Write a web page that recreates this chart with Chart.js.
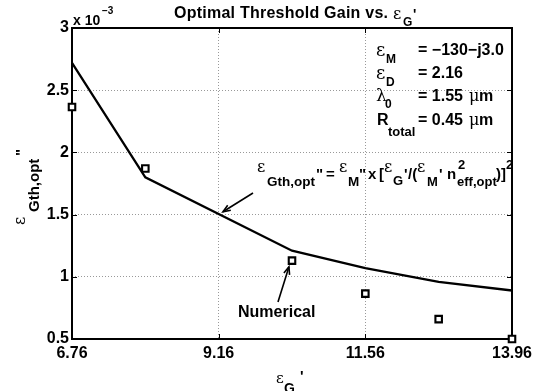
<!DOCTYPE html>
<html><head><meta charset="utf-8">
<script src="https://cdn.jsdelivr.net/npm/chart.js@4.4.0/dist/chart.umd.min.js"></script>
<style>html,body{margin:0;padding:0;background:#fff;overflow:hidden}#wrap{width:543px;height:391px}</style>
</head><body><div id="wrap"><canvas id="c" width="543" height="391"></canvas></div>
<script>
// ---- data (y values in units of 1e-3) ----
const xTicks = [6.76, 9.16, 11.56, 13.96];
const xTickLabels = ["6.76", "9.16", "11.56", "13.96"];
const yTicks = [0.5, 1, 1.5, 2, 2.5, 3];
const yTickLabels = ["0.5", "1", "1.5", "2", "2.5", "3"];
const analyticX = [6.76, 7.96, 10.36, 11.56, 12.76, 13.96];
const analyticY = [2.72, 1.80, 1.21, 1.07, 0.96, 0.89];
const numericalX = [6.76, 7.96, 10.36, 11.56, 12.76, 13.96];
const numericalY = [2.365, 1.87, 1.13, 0.865, 0.66, 0.50];

const SANS = '"Liberation Sans", Arial, Helvetica, sans-serif';
const SERIF = '"DejaVu Serif", "Liberation Serif", serif';
const B = s => 'bold ' + s + 'px ' + SANS;
const E = s => s + 'px ' + SERIF;

function segs(ctx, list) {
  for (const s of list) { ctx.font = s.f; ctx.fillText(s.t, s.x, s.y); }
}
function fitText(ctx, t, x, y, f, w) {
  ctx.font = f;
  const n = t.length;
  const base = ctx.measureText(t).width;
  const sp = (w - base) / (n - 1);
  let cx = x;
  for (const ch of t) { ctx.fillText(ch, cx, y); cx += ctx.measureText(ch).width + sp; }
}
function arrow(ctx, x1, y1, x2, y2) {
  const a = Math.atan2(y2 - y1, x2 - x1), L = 8, w = 0.38;
  ctx.beginPath(); ctx.moveTo(x1, y1); ctx.lineTo(x2, y2); ctx.stroke();
  ctx.beginPath();
  ctx.moveTo(x2 - L * Math.cos(a - w), y2 - L * Math.sin(a - w));
  ctx.lineTo(x2, y2);
  ctx.lineTo(x2 - L * Math.cos(a + w), y2 - L * Math.sin(a + w));
  ctx.stroke();
}

const deco = {
  id: 'deco',
  beforeDatasetsDraw(chart) {
    const {ctx, chartArea: a, scales} = chart;
    ctx.save();
    ctx.strokeStyle = '#000'; ctx.lineWidth = 1;
    ctx.beginPath();
    for (const v of xTicks) {
      const px = Math.round(scales.x.getPixelForValue(v)) + 0.5;
      ctx.moveTo(px, a.bottom); ctx.lineTo(px, a.bottom - 5);
      ctx.moveTo(px, a.top); ctx.lineTo(px, a.top + 5);
    }
    for (const v of yTicks) {
      const py = Math.round(scales.y.getPixelForValue(v)) + 0.5;
      ctx.moveTo(a.left, py); ctx.lineTo(a.left + 5, py);
      ctx.moveTo(a.right, py); ctx.lineTo(a.right - 5, py);
    }
    ctx.stroke();
    ctx.lineWidth = 2;
    ctx.strokeRect(a.left, a.top, a.right - a.left, a.bottom - a.top);
    ctx.restore();
  },
  afterDraw(chart) {
    const {ctx, scales} = chart;
    ctx.save();
    ctx.fillStyle = '#000'; ctx.strokeStyle = '#000';
    ctx.textBaseline = 'alphabetic'; ctx.textAlign = 'left';
    // title
    fitText(ctx, 'Optimal Threshold Gain vs.', 174, 18, B(16), 214);
    segs(ctx, [
      {t: 'ε', x: 393, y: 19, f: E(16)},
      {t: 'G', x: 403, y: 26, f: B(12)},
      {t: "'", x: 413, y: 19, f: B(14)}
    ]);
    // exponent
    segs(ctx, [
      {t: 'x 10', x: 73, y: 25, f: B(14)},
      {t: '\u22123', x: 102, y: 14, f: B(10)}
    ]);
    // parameter box
    segs(ctx, [
      {t: 'ε', x: 376, y: 56, f: E(18)},
      {t: 'M', x: 386, y: 63, f: B(12)},
      {t: '= \u2212130\u2212j3.0', x: 418, y: 55, f: B(16)},
      {t: 'ε', x: 376, y: 79, f: E(18)},
      {t: 'D', x: 386, y: 86, f: B(12)},
      {t: '= 2.16', x: 418, y: 78, f: B(16)},
      {t: 'λ', x: 376, y: 101, f: E(17)},
      {t: '0', x: 385, y: 108, f: B(12)},
      {t: '= 1.55 ', x: 418, y: 101, f: B(16)},
      {t: 'μ', x: 469, y: 101, f: E(16)},
      {t: 'm', x: 479, y: 101, f: B(16)},
      {t: 'R', x: 377, y: 125, f: B(16)},
      {t: 'total', x: 388, y: 136, f: B(13)},
      {t: '= 0.45 ', x: 418, y: 125, f: B(16)},
      {t: 'μ', x: 469, y: 125, f: E(16)},
      {t: 'm', x: 479, y: 125, f: B(16)}
    ]);
    // formula
    segs(ctx, [
      {t: 'ε', x: 257, y: 172, f: E(16)},
      {t: 'Gth,opt', x: 267, y: 186, f: B(13.5)},
      {t: '"', x: 316, y: 179, f: B(15)},
      {t: '=', x: 326, y: 179, f: B(15)},
      {t: 'ε', x: 339, y: 172, f: E(16)},
      {t: 'M', x: 348, y: 186, f: B(13.5)},
      {t: '"', x: 359, y: 179, f: B(15)},
      {t: 'x', x: 368, y: 179, f: B(15)},
      {t: '[', x: 379, y: 179, f: B(15)},
      {t: 'ε', x: 384, y: 172, f: E(16)},
      {t: 'G', x: 393, y: 185, f: B(13)},
      {t: "'", x: 404, y: 179, f: B(15)},
      {t: '/(', x: 408, y: 179, f: B(15)},
      {t: 'ε', x: 417, y: 172, f: E(16)},
      {t: 'M', x: 427, y: 186, f: B(13)},
      {t: "'", x: 439, y: 179, f: B(15)},
      {t: 'n', x: 447, y: 179, f: B(15)},
      {t: '2', x: 458, y: 169, f: B(13)},
      {t: 'eff,opt', x: 457, y: 186, f: B(13)},
      {t: ')]', x: 496, y: 179, f: B(15)},
      {t: '2', x: 506, y: 169, f: B(13)}
    ]);
    segs(ctx, [{t: 'Numerical', x: 238, y: 317, f: B(16)}]);
    // arrows (tips in data coordinates)
    ctx.lineWidth = 1.6;
    arrow(ctx, 253, 193, scales.x.getPixelForValue(9.23), scales.y.getPixelForValue(1.523));
    arrow(ctx, 278, 302, scales.x.getPixelForValue(10.31), scales.y.getPixelForValue(1.08));
    // x-axis title
    segs(ctx, [
      {t: 'ε', x: 276, y: 383, f: E(15)},
      {t: 'G', x: 284, y: 393, f: B(14)},
      {t: "'", x: 300, y: 381, f: B(15)}
    ]);
    // y-axis title (rotated)
    ctx.rotate(-Math.PI / 2);
    segs(ctx, [
      {t: 'ε', x: -225, y: 25, f: E(16)},
      {t: 'Gth,opt', x: -212, y: 38.5, f: B(15)},
      {t: '"', x: -156, y: 25.5, f: B(15)}
    ]);
    ctx.restore();
  }
};

new Chart(document.getElementById('c'), {
  type: 'scatter',
  data: {
    datasets: [
      {
        type: 'line',
        data: analyticX.map((x, i) => ({x, y: analyticY[i]})),
        borderColor: '#000', borderWidth: 2.3, pointRadius: 0, tension: 0, fill: false,
        order: 2
      },
      {
        type: 'scatter',
        data: numericalX.map((x, i) => ({x, y: numericalY[i]})),
        pointStyle: 'rect', pointRadius: 4.6, borderWidth: 2.1,
        borderColor: '#000', backgroundColor: '#fff', clip: false, order: 1
      }
    ]
  },
  options: {
    responsive: false, animation: false, devicePixelRatio: 1,
    layout: {padding: {top: 28, right: 31, left: 0, bottom: 0}},
    plugins: {legend: {display: false}, tooltip: {enabled: false}, title: {display: false}},
    scales: {
      x: {
        type: 'linear', min: 6.76, max: 13.96,
        afterBuildTicks: s => { s.ticks = xTicks.map(v => ({value: v})); },
        afterFit: s => { s.height = 52; },
        ticks: {
          font: {family: SANS, size: 16, weight: 'bold'}, color: '#000', padding: 5,
          maxRotation: 0, autoSkip: false,
          callback: (v) => { const i = xTicks.indexOf(v); return i >= 0 ? xTickLabels[i] : ''; }
        },
        grid: {
          drawTicks: false, lineWidth: 1,
          color: c => (c.index === 0 || c.index === xTicks.length - 1) ? 'rgba(0,0,0,0)' : 'rgba(0,0,0,0.4)'
        },
        border: {display: false, dash: [1, 2]}
      },
      y: {
        type: 'linear', min: 0.5, max: 3,
        afterBuildTicks: s => { s.ticks = yTicks.map(v => ({value: v})); },
        afterFit: s => { s.width = 72; },
        ticks: {
          font: {family: SANS, size: 16, weight: 'bold'}, color: '#000', padding: 3,
          callback: (v) => { const i = yTicks.indexOf(v); return i >= 0 ? yTickLabels[i] : ''; }
        },
        grid: {
          drawTicks: false, lineWidth: 1,
          color: c => (c.index === 0 || c.index === yTicks.length - 1) ? 'rgba(0,0,0,0)' : 'rgba(0,0,0,0.4)'
        },
        border: {display: false, dash: [1, 2]}
      }
    }
  },
  plugins: [deco]
});
</script>
</body></html>
